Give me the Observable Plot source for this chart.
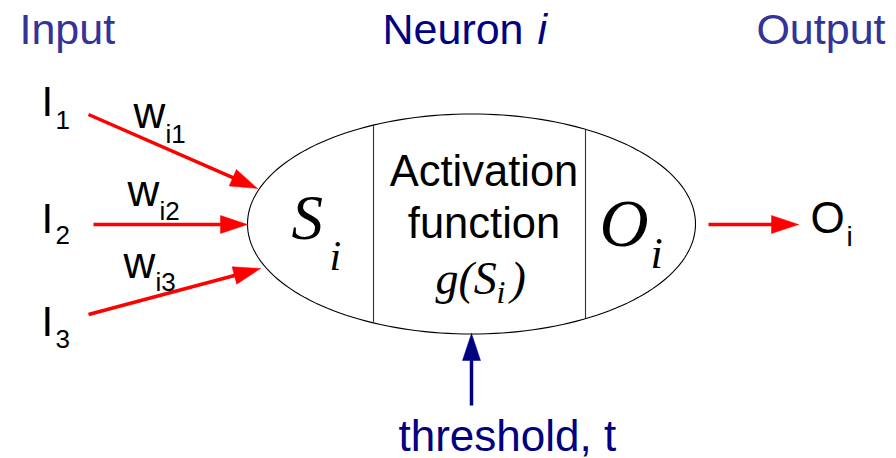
<!DOCTYPE html>
<html><head><meta charset="utf-8">
<script src="https://cdn.jsdelivr.net/npm/d3@7"></script>
<script src="https://cdn.jsdelivr.net/npm/@observablehq/plot@0.6"></script>
<style>body{margin:0;background:#fff}</style>
</head><body><div id="chart"></div>
<script>
const W = 896, H = 458;

// ---- text content ----
const sectionTitles = ["Input", "Neuron", "Output"];
const neuronIndex = "i";
const inputNames = ["I", "I", "I"];
const inputSubs = ["1", "2", "3"];
const weightNames = ["w", "w", "w"];
const weightSubs = ["i1", "i2", "i3"];
const cellLines = ["Activation", "function"];
const sumLabel = ["S", "i"];
const outLabel = ["O", "i"];
const funcLabel = ["g(S", "i", ")"];
const outputName = ["O", "i"];
const thresholdLabel = "threshold, t";

// ---- layout (pixel space) ----
const body = {cx: 471, cy: 223.5, rx: 224, ry: 110};
const dividerX = [373, 585];
const inArrowFrom = [[88, 114], [93, 224], [88, 314]];
const inArrowTo = [[257, 188], [247, 224], [260, 268]];
const outArrow = [[708, 224], [798, 224]];
const thrArrow = [[471, 405], [471, 333]];
const headLen = 27, headHalf = 9;

const titleColor = "#333399", navy = "#000080", red = "#ff0000";

// ellipse outline
const ellipsePts = d3.range(0, 361, 2).map(a => {
  const t = a * Math.PI / 180;
  return {x: body.cx + body.rx * Math.cos(t), y: body.cy + body.ry * Math.sin(t)};
});
const dividers = dividerX.map(x => {
  const k = Math.sqrt(1 - ((x - body.cx) / body.rx) ** 2) * body.ry;
  return {x, y1: body.cy - k, y2: body.cy + k};
});

// arrows
const arrows = [
  ...inArrowFrom.map((f, i) => ({id: "in" + i, from: f, to: inArrowTo[i], c: red})),
  {id: "out", from: outArrow[0], to: outArrow[1], c: red},
  {id: "thr", from: thrArrow[0], to: thrArrow[1], c: navy}
];
const shafts = [], heads = [];
arrows.forEach(a => {
  const [x1, y1] = a.from, [x2, y2] = a.to;
  const d = Math.hypot(x2 - x1, y2 - y1), ux = (x2 - x1) / d, uy = (y2 - y1) / d;
  const bx = x2 - ux * headLen, by = y2 - uy * headLen;
  shafts.push({x1, y1, x2: bx + ux * 2, y2: by + uy * 2, c: a.c});
  [[x2, y2], [bx - uy * headHalf, by + ux * headHalf], [bx + uy * headHalf, by - ux * headHalf], [x2, y2]]
    .forEach(([x, y]) => heads.push({id: a.id, x, y, c: a.c}));
});

// labels
const wx = [133, 127, 123];
const sansStart = [
  {t: sectionTitles[0], x: 19, y: 43, s: 43, c: titleColor},
  {t: sectionTitles[1], x: 382, y: 43, s: 43, c: navy},
  ...inputNames.map((t, i) => ({t, x: 41, y: [115, 232, 335][i], s: 42, c: "#000"})),
  ...inputSubs.map((t, i) => ({t, x: 55, y: [128, 243, 347][i], s: 26, c: "#000"})),
  ...weightNames.map((t, i) => ({t, x: wx[i], y: [127, 205, 277][i], s: 44, c: "#000"})),
  ...weightSubs.map((t, i) => ({t, x: wx[i] + 32, y: [142, 219, 290][i], s: 26, c: "#000"})),
  {t: outputName[0], x: 810, y: 232, s: 44, c: "#000"},
  {t: outputName[1], x: 846, y: 245, s: 28, c: "#000"},
  {t: thresholdLabel, x: 398, y: 450, s: 44, c: navy}
];
const sansMiddle = cellLines.map((t, i) => ({t, x: 483.5, y: [185, 237][i], s: 43.5, c: "#000"}));
const sansEnd = [{t: sectionTitles[2], x: 885, y: 43, s: 43, c: titleColor}];
const sansItalic = [{t: neuronIndex, x: 537, y: 43, s: 43, c: navy}];
const serifItalic = [
  {t: sumLabel[0], x: 291, y: 238, s: 63},
  {t: sumLabel[1], x: 329, y: 269, s: 42},
  {t: outLabel[0], x: 599, y: 245, s: 68},
  {t: outLabel[1], x: 650, y: 267, s: 44},
  {t: funcLabel[0], x: 435, y: 293, s: 46},
  {t: funcLabel[1], x: 496, y: 302, s: 32},
  {t: funcLabel[2], x: 510, y: 293, s: 46}
];

const sans = "'Liberation Sans', Arial, sans-serif";
const serif = "'Liberation Serif', 'Times New Roman', serif";
const txt = (data, o) => Plot.text(data, {x: "x", y: "y", text: "t", fontSize: "s", fill: "c", lineAnchor: "bottom", ...o});

const chart = Plot.plot({
  width: W, height: H, margin: 0,
  style: {background: "#fff", fontFamily: sans},
  x: {domain: [0, W], axis: null},
  y: {domain: [0, H], reverse: true, axis: null},
  color: {type: "identity"},
  marks: [
    Plot.line(ellipsePts, {x: "x", y: "y", stroke: "#000", strokeWidth: 1.1}),
    Plot.ruleX(dividers, {x: "x", y1: "y1", y2: "y2", stroke: "#333", strokeWidth: 1.1}),
    Plot.link(shafts, {x1: "x1", y1: "y1", x2: "x2", y2: "y2", stroke: "c", strokeWidth: 3.5}),
    Plot.line(heads, {x: "x", y: "y", z: "id", fill: "c", stroke: "c", strokeWidth: 0.5}),
    txt(sansStart, {textAnchor: "start", fontFamily: sans}),
    txt(sansMiddle, {textAnchor: "middle", fontFamily: sans}),
    txt(sansEnd, {textAnchor: "end", fontFamily: sans}),
    txt(sansItalic, {textAnchor: "start", fontFamily: sans, fontStyle: "italic"}),
    txt(serifItalic, {textAnchor: "start", fontFamily: serif, fontStyle: "italic", fill: "#000"})
  ]
});
document.getElementById("chart").appendChild(chart);
</script>
</body></html>
